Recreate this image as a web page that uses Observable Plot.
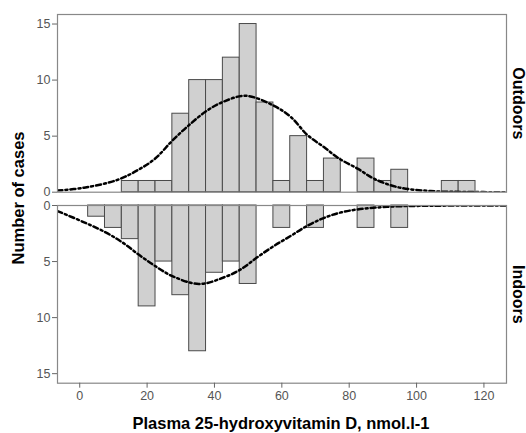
<!DOCTYPE html>
<html><head>
<meta charset="utf-8">
<script src="https://cdn.jsdelivr.net/npm/d3@7"></script>
<script src="https://cdn.jsdelivr.net/npm/@observablehq/plot@0.6"></script>
<style>
body{margin:0;background:#fff;}
#wrap{position:relative;width:526px;height:433px;font-family:"Liberation Sans",Arial,sans-serif;overflow:hidden;}
#topPanel,#botPanel{position:absolute;left:0;}
#topPanel{top:0px;} #botPanel{top:198px;}
.ylab{position:absolute;left:18px;top:197.5px;transform:translate(-50%,-50%) rotate(-90deg);font-weight:bold;font-size:16.5px;white-space:nowrap;color:#000;}
.xlab{position:absolute;left:281px;top:423px;transform:translate(-50%,-50%);font-weight:bold;font-size:16.5px;white-space:nowrap;color:#000;}
</style></head>
<body>
<div id="wrap"><div id="topPanel"></div><div id="botPanel"></div>
<div class="ylab">Number of cases</div>
<div class="xlab">Plasma 25-hydroxyvitamin D, nmol.l-1</div>
</div>
<script>
// Histogram bins (width 5), centers
const binCenters    = [5,10,15,20,25,30,35,40,45,50,55,60,65,70,75,80,85,90,95,100,105,110,115];
const outdoorCounts = [0, 0, 1, 1, 1, 7,10,10,12,15, 8, 1, 5, 1, 3, 0, 3, 1, 2, 0, 0, 1, 1];
const indoorCounts  = [1, 2, 3, 9, 5, 8,13, 6, 5, 7, 0, 2, 0, 2, 0, 0, 2, 0, 2, 0, 0, 0, 0];
const binWidth = 5;

// Fitted normal curves
const outdoorCurveX = [-6.6, 1.3, 11.2, 17.4, 22.4, 27.5, 32.5, 37.9, 42.9, 49.3, 57.7, 62.7, 67.6, 72.6, 77, 82.5, 87.4, 94.4, 104.2, 115, 126.7];
const outdoorCurveY = [0.15, 0.4, 1.1, 2.0, 3.0, 4.6, 6.0, 7.3, 8.1, 8.6, 7.7, 6.7, 5.1, 4.0, 3.0, 2.1, 1.2, 0.45, 0.1, 0.02, 0];
const indoorCurveX  = [-6.6, 1.3, 7.7, 12.7, 17.6, 22.4, 27.5, 35.4, 42.9, 47.8, 52.8, 57.7, 62.7, 67.6, 72.6, 77, 82.5, 92.4, 105, 126.7];
const indoorCurveY  = [0.5, 1.5, 2.4, 3.3, 4.4, 5.4, 6.3, 7.0, 6.4, 5.7, 4.6, 3.6, 2.7, 1.8, 1.1, 0.66, 0.35, 0.1, 0.02, 0];

const xTicks = [0,20,40,60,80,100,120];
const yTicks = [0,5,10,15];
const xDomain = [-6.6, 126.7];
const yDomain = [0, 15.85];

const bins = binCenters.map((c,i)=>({x1:c-binWidth/2, x2:c+binWidth/2, out:outdoorCounts[i], ind:indoorCounts[i]}));
const outCurve = outdoorCurveX.map((x,i)=>({x, y:outdoorCurveY[i]}));
const indCurve = indoorCurveX.map((x,i)=>({x, y:indoorCurveY[i]}));

const common = {
  width:526, marginLeft:57, marginRight:20,
  style:{fontFamily:"Liberation Sans, Arial, sans-serif", fontSize:"12.5px", color:"#555", background:"#fff", overflow:"visible"}
};
const barStyle = {fill:"#d0d0d0", stroke:"#4a4a4a", strokeWidth:1};
const curveStyle = {stroke:"#000", strokeWidth:2.5, strokeDasharray:"5,3,2,3", curve:"catmull-rom", clip:true};

const topChart = Plot.plot({
  ...common, height:198, marginTop:14, marginBottom:6.3,
  x:{domain:xDomain, axis:null},
  y:{domain:yDomain, axis:null},
  marks:[
    Plot.rect(bins.filter(d=>d.out>0), {x1:"x1", x2:"x2", y1:0, y2:"out", ...barStyle}),
    Plot.line(outCurve, {x:"x", y:"y", ...curveStyle}),
    Plot.frame({stroke:"#888", strokeWidth:1.2}),
    Plot.axisY({ticks:yTicks, tickSize:5, tickPadding:2, label:null, stroke:"#666", fill:"#555"}),
    Plot.text(["Outdoors"], {frameAnchor:"right", dx:11.5, rotate:90, text:d=>d, fill:"#000", fontWeight:"bold", fontSize:16, textAnchor:"middle"})
  ]
});
document.getElementById("topPanel").appendChild(topChart);

const botChart = Plot.plot({
  ...common, height:235, marginTop:7, marginBottom:50.3,
  x:{domain:xDomain},
  y:{domain:yDomain, reverse:true, axis:null},
  marks:[
    Plot.rect(bins.filter(d=>d.ind>0), {x1:"x1", x2:"x2", y1:0, y2:"ind", ...barStyle}),
    Plot.line(indCurve, {x:"x", y:"y", ...curveStyle}),
    Plot.frame({stroke:"#888", strokeWidth:1.2}),
    Plot.axisY({ticks:yTicks, tickSize:5, tickPadding:2, label:null, stroke:"#666", fill:"#555"}),
    Plot.axisX({ticks:xTicks, tickSize:5, tickPadding:3, label:null, stroke:"#666", fill:"#555"}),
    Plot.text(["Indoors"], {frameAnchor:"right", dx:11.5, rotate:90, text:d=>d, fill:"#000", fontWeight:"bold", fontSize:16, textAnchor:"middle"})
  ]
});
document.getElementById("botPanel").appendChild(botChart);
</script>
</body></html>
